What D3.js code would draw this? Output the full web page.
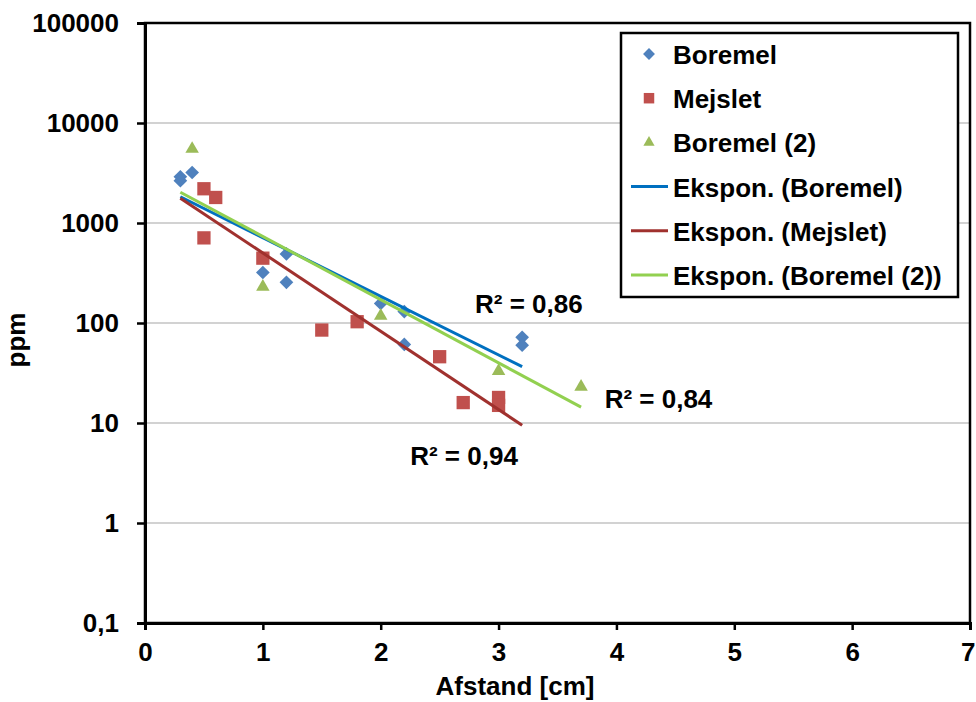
<!DOCTYPE html>
<html><head><meta charset="utf-8">
<script src="https://cdn.jsdelivr.net/npm/d3@7"></script>
<style>body{margin:0;background:#fff}svg{display:block}text{font-family:"Liberation Sans",Arial,sans-serif;font-weight:bold}</style>
</head><body>
<script>
// ---- data ----
const boremelX = [0.3, 0.3, 0.4, 1.0, 1.2, 1.2, 2.0, 2.2, 2.2, 3.2, 3.2];
const boremelY = [2900, 2650, 3200, 320, 490, 255, 157, 130, 61, 72, 60];
const mejsletX = [0.5, 0.6, 0.5, 1.0, 1.5, 1.8, 2.5, 2.7, 3.0, 3.0];
const mejsletY = [2200, 1800, 710, 445, 85, 103, 46, 16, 18, 15];
const boremel2X = [0.4, 1.0, 2.0, 3.0, 3.7];
const boremel2Y = [5500, 230, 118, 33, 23];
// trend line end points (exponential fits, straight on log axis)
const trendNames = ["Ekspon. (Boremel)", "Ekspon. (Mejslet)", "Ekspon. (Boremel (2))"];
const trendX = [[0.3, 3.2], [0.3, 3.2], [0.3, 3.7]];
const trendY = [[1830, 36.6], [1770, 9.5], [2030, 14.4]];
const r2Labels = ["R² = 0,86", "R² = 0,94", "R² = 0,84"];
const r2At = [[2.8, 126], [2.25, 3.8], [3.9, 14.1]];
const yTicks = [0.1, 1, 10, 100, 1000, 10000, 100000];
const yTickLabels = ["0,1", "1", "10", "100", "1000", "10000", "100000"];
const xTicks = [0, 1, 2, 3, 4, 5, 6, 7];

// ---- chart ----
const W = 976, H = 702;
const L = 145, R = 970, T = 23, B = 623;
const FS = 26;
const svg = d3.select("body").append("svg").attr("width", W).attr("height", H);
const x = d3.scaleLinear().domain([0, 7]).range([L, R]);
const y = d3.scaleLog().domain([0.1, 100000]).range([B, T]);

// gridlines
svg.append("g").selectAll("line").data(yTicks.slice(1, -1)).join("line")
  .attr("x1", L).attr("x2", R).attr("y1", d => y(d)).attr("y2", d => y(d))
  .attr("stroke", "#a6a6a6").attr("stroke-width", 1.2);

// frame
svg.append("rect").attr("x", L).attr("y", T).attr("width", R - L).attr("height", B - T)
  .attr("fill", "none").attr("stroke", "#000").attr("stroke-width", 2.5);

// axes
const yAxis = d3.axisLeft(y).tickValues(yTicks).tickFormat((d, i) => yTickLabels[i]).tickSize(8).tickPadding(18);
const gy = svg.append("g").attr("transform", `translate(${L},0)`).call(yAxis);
gy.select(".domain").attr("stroke-width", 3);
gy.selectAll(".tick line").attr("stroke-width", 2.5);
gy.selectAll("text").attr("font-size", FS).attr("fill", "#000").attr("font-family", "Liberation Sans, Arial").attr("font-weight", "bold");

const xAxis = d3.axisBottom(x).tickValues(xTicks).tickFormat(d3.format("d")).tickSize(7).tickPadding(13);
const gx = svg.append("g").attr("transform", `translate(0,${B})`).call(xAxis);
gx.select(".domain").attr("stroke-width", 3);
gx.selectAll(".tick line").attr("stroke-width", 2.5);
gx.selectAll("text").attr("font-size", FS).attr("fill", "#000").attr("font-family", "Liberation Sans, Arial").attr("font-weight", "bold");
// last label sits at the right edge; keep it inside the page
gx.selectAll(".tick text").filter(d => d === 7).attr("text-anchor", "end").attr("dx", 5);

// axis titles
svg.append("text").attr("x", 515).attr("y", 695).attr("text-anchor", "middle")
  .attr("font-size", FS).text("Afstand [cm]");
svg.append("text").attr("transform", `translate(25,340) rotate(-90)`).attr("text-anchor", "middle")
  .attr("font-size", FS).text("ppm");

const colors = { blue: "#4f81bd", red: "#c0504d", green: "#9bbb59" };
const trendColors = ["#0070c0", "#a0312e", "#92d050"];
const sym = {
  diamond: d3.symbol().type(d3.symbolDiamond2).size(120),
  square: d3.symbol().type(d3.symbolSquare2).size(225),
  triangle: d3.symbol().type(d3.symbolTriangle2).size(130)
};

// points
function drawPts(xs, ys, s, c) {
  svg.append("g").selectAll("path").data(xs.map((v, i) => [v, ys[i]])).join("path")
    .attr("d", s).attr("fill", c)
    .attr("transform", d => `translate(${x(d[0])},${y(d[1])})`);
}
drawPts(boremelX, boremelY, sym.diamond, colors.blue);
drawPts(mejsletX, mejsletY, sym.square, colors.red);
drawPts(boremel2X, boremel2Y, sym.triangle, colors.green);

// trend lines
const line = d3.line().x(d => x(d[0])).y(d => y(d[1]));
trendX.forEach((xs, i) => {
  svg.append("path").datum(xs.map((v, j) => [v, trendY[i][j]]))
    .attr("d", line).attr("fill", "none").attr("stroke", trendColors[i]).attr("stroke-width", 3);
});

// R² labels
r2Labels.forEach((t, i) => {
  svg.append("text").attr("x", x(r2At[i][0])).attr("y", y(r2At[i][1])).attr("font-size", FS).text(t);
});

// legend
const lg = svg.append("g");
lg.append("rect").attr("x", 621).attr("y", 33).attr("width", 337).attr("height", 264)
  .attr("fill", "#fff").attr("stroke", "#000").attr("stroke-width", 2.5);
const legItems = [
  { name: "Boremel", type: "diamond", c: colors.blue },
  { name: "Mejslet", type: "square", c: colors.red },
  { name: "Boremel (2)", type: "triangle", c: colors.green },
  { name: trendNames[0], type: "line", c: trendColors[0] },
  { name: trendNames[1], type: "line", c: trendColors[1] },
  { name: trendNames[2], type: "line", c: trendColors[2] }
];
legItems.forEach((it, i) => {
  const cy = 54 + i * 44.2;
  if (it.type === "line") {
    lg.append("line").attr("x1", 631).attr("x2", 668).attr("y1", cy).attr("y2", cy)
      .attr("stroke", it.c).attr("stroke-width", 3);
  } else {
    const s = it.type === "diamond" ? d3.symbol().type(d3.symbolDiamond2).size(90)
      : it.type === "square" ? d3.symbol().type(d3.symbolSquare2).size(140)
      : d3.symbol().type(d3.symbolTriangle2).size(90);
    lg.append("path").attr("d", s).attr("fill", it.c).attr("transform", `translate(649,${cy})`);
  }
  lg.append("text").attr("x", 673).attr("y", cy + 10).attr("font-size", FS).text(it.name);
});
</script>
</body></html>
